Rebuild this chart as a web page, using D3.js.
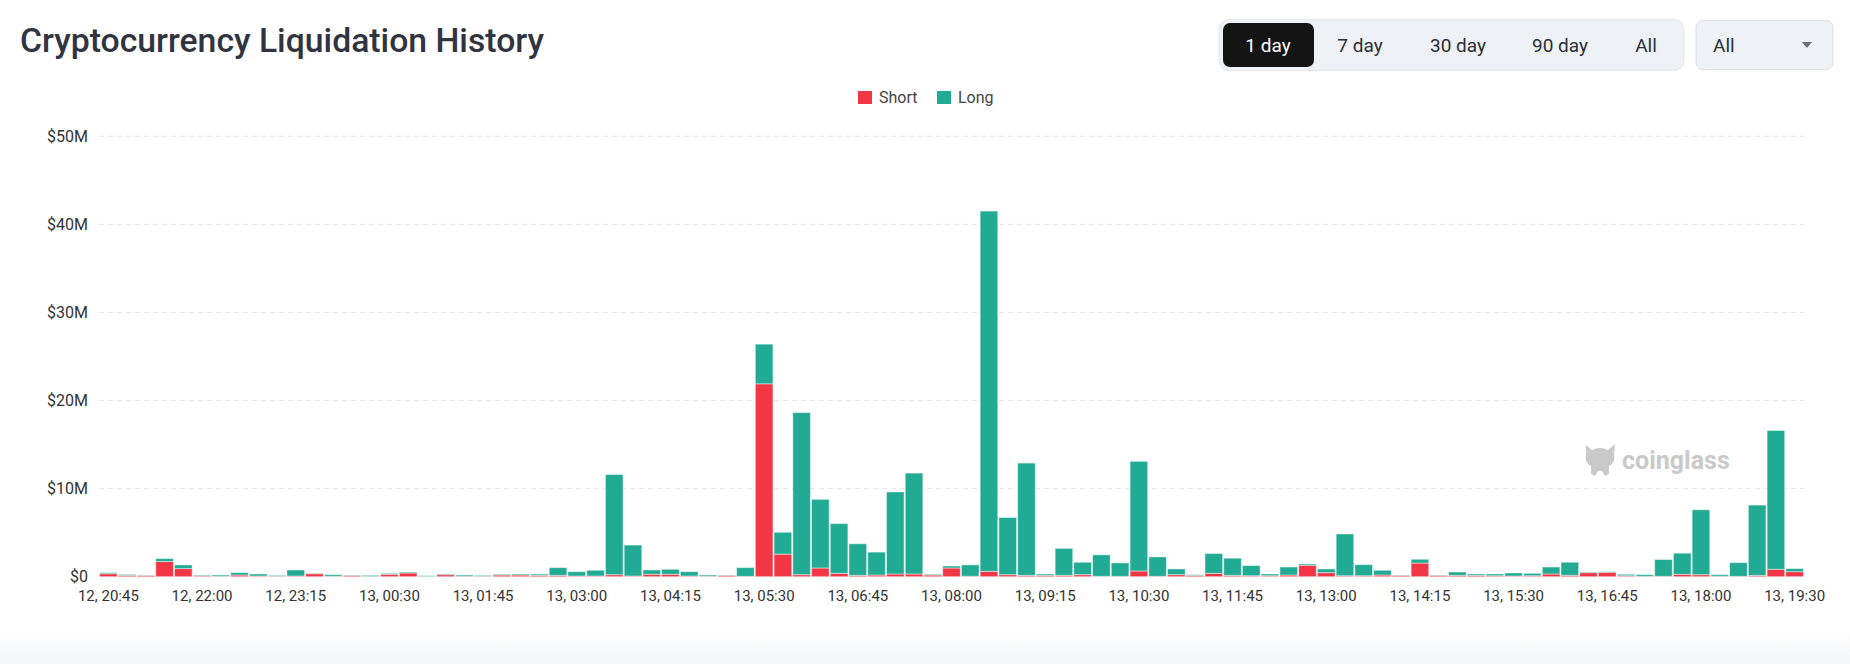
<!DOCTYPE html>
<html>
<head>
<meta charset="utf-8">
<script src="https://cdn.jsdelivr.net/npm/d3@7"></script>
<style>
  html, body { margin: 0; padding: 0; background: #fff; }
  svg { display: block; }
</style>
</head>
<body>
<div class="chart-div"></div>
<script>
//--------------------------- Data (values in $M, 15 min buckets)

var shortVals = [0.34, 0.15, 0.15, 1.72, 0.92, 0.11, 0.04, 0.19, 0.08, 0.05,
                 0.08, 0.34, 0.04, 0.15, 0.02, 0.27, 0.42, 0.02, 0.23, 0.05,
                 0.05, 0.19, 0.19, 0.15, 0.15, 0.08, 0.08, 0.23, 0.08, 0.27,
                 0.27, 0.08, 0.04, 0.15, 0.04, 21.9, 2.56, 0.23, 0.99, 0.38,
                 0.15, 0.19, 0.31, 0.31, 0.19, 0.99, 0.05, 0.61, 0.23, 0.15,
                 0.15, 0.15, 0.23, 0.04, 0.04, 0.65, 0.04, 0.23, 0.15, 0.38,
                 0.15, 0.11, 0.11, 0.19, 1.30, 0.46, 0.11, 0.11, 0.19, 0.15,
                 1.55, 0.15, 0.15, 0.15, 0.11, 0.08, 0.11, 0.31, 0.15, 0.46,
                 0.50, 0.11, 0.04, 0.04, 0.27, 0.23, 0.04, 0.04, 0.15, 0.84,
                 0.57];

var longVals = [0.12, 0.11, 0.02, 0.34, 0.42, 0.08, 0.15, 0.27, 0.23, 0.10,
                0.68, 0.04, 0.19, 0.04, 0.13, 0.11, 0.11, 0.09, 0.08, 0.14,
                0.10, 0.08, 0.12, 0.15, 0.88, 0.49, 0.65, 11.37, 3.51, 0.49,
                0.57, 0.49, 0.15, 0.04, 0.99, 4.5, 2.48, 18.4, 7.79, 5.65,
                3.59, 2.60, 9.31, 11.45, 0.08, 0.23, 1.29, 40.9, 6.49, 12.75,
                0.16, 3.06, 1.41, 2.44, 1.52, 12.45, 2.21, 0.65, 0.08, 2.25,
                1.95, 1.15, 0.20, 0.91, 0.15, 0.42, 4.74, 1.26, 0.54, 0.04,
                0.43, 0.04, 0.38, 0.16, 0.20, 0.34, 0.27, 0.79, 1.49, 0.07,
                0.07, 0.16, 0.19, 1.91, 2.40, 7.37, 0.19, 1.56, 7.98, 15.76,
                0.35];

var tickLabels = ["12, 20:45", "12, 22:00", "12, 23:15", "13, 00:30", "13, 01:45",
                  "13, 03:00", "13, 04:15", "13, 05:30", "13, 06:45", "13, 08:00",
                  "13, 09:15", "13, 10:30", "13, 11:45", "13, 13:00", "13, 14:15",
                  "13, 15:30", "13, 16:45", "13, 18:00", "13, 19:30"];

var yTicks = [0, 10, 20, 30, 40, 50];
var seriesNames = ["Short", "Long"];
var rangeButtons = ["1 day", "7 day", "30 day", "90 day", "All"];

//--------------------------- SVG definition

var width = 1850;
var height = 664;

var svg = d3.select("div.chart-div")
    .append("svg")
    .attr("width", width)
    .attr("height", height)

var defs = svg.append("defs");
var grad = defs.append("linearGradient")
    .attr("id", "bottomfade")
    .attr("x1", 0).attr("y1", 0).attr("x2", 0).attr("y2", 1);
grad.append("stop").attr("offset", "0%").attr("stop-color", "#ffffff");
grad.append("stop").attr("offset", "100%").attr("stop-color", "#f4f5f7");

svg.append("rect")
    .attr("x", 0).attr("y", 628)
    .attr("width", width).attr("height", height - 628)
    .attr("fill", "url(#bottomfade)");

var colors = { Short: "#f23645", Long: "#22ab94" };

//--------------------------- Scales

var x = d3.scaleBand()
    .domain(d3.range(shortVals.length))
    .range([99, 1804])
    .paddingInner(0.06)
    .paddingOuter(0.03);

var y = d3.scaleLinear()
    .domain([0, 50])
    .range([576.7, 136.3]);

//--------------------------- Title and controls

svg.append("text")
    .attr("x", 20)
    .attr("y", 52)
    .attr("textLength", 524)
    .attr("lengthAdjust", "spacingAndGlyphs")
    .style("font-family", "Roboto, 'Noto Sans', sans-serif")
    .style("font-weight", 500)
    .style("font-size", "34px")
    .style("fill", "#2f3440")
    .text("Cryptocurrency Liquidation History");

var btns = svg.append("g");
btns.append("rect")
    .attr("x", 1219).attr("y", 19.5)
    .attr("width", 465).attr("height", 51)
    .attr("rx", 10)
    .attr("fill", "#eef1f5")
    .attr("stroke", "#e3e7ec");

var btnCenters = [1268, 1360, 1458, 1560, 1646];
btns.append("rect")
    .attr("x", 1223).attr("y", 23)
    .attr("width", 91).attr("height", 44)
    .attr("rx", 7)
    .attr("fill", "#141414");

btns.selectAll("text.btn")
    .data(rangeButtons)
    .enter()
    .append("text")
    .attr("class", "btn")
    .attr("x", function (d, i) { return btnCenters[i]; })
    .attr("y", 52)
    .attr("text-anchor", "middle")
    .style("font-family", "Roboto, sans-serif")
    .style("font-size", "19px")
    .style("fill", function (d, i) { return i == 0 ? "#ffffff" : "#2b2f36"; })
    .text(function (d) { return d; });

var dd = svg.append("g");
dd.append("rect")
    .attr("x", 1696).attr("y", 20.5)
    .attr("width", 137).attr("height", 49)
    .attr("rx", 7)
    .attr("fill", "#eef1f5")
    .attr("stroke", "#d9e0e8");
dd.append("text")
    .attr("x", 1713).attr("y", 52)
    .style("font-family", "Roboto, sans-serif")
    .style("font-size", "19px")
    .style("fill", "#2b2f36")
    .text("All");
dd.append("path")
    .attr("d", "M1802,42 L1812,42 L1807,48 Z")
    .attr("fill", "#6b6f76");

//--------------------------- Legend

var legend = svg.append("g");
var legX = [858, 937];
seriesNames.forEach(function (name, i) {
    legend.append("rect")
        .attr("x", legX[i]).attr("y", 91)
        .attr("width", 14).attr("height", 13)
        .attr("fill", colors[name]);
    legend.append("text")
        .attr("x", legX[i] + 21).attr("y", 103)
        .style("font-family", "Roboto, sans-serif")
        .style("font-size", "16px")
        .style("fill", "#444")
        .text(name);
});

//--------------------------- Grid and y axis

var grid = svg.append("g");
grid.selectAll("line")
    .data(yTicks.filter(function (d) { return d > 0; }))
    .enter()
    .append("line")
    .attr("x1", 99).attr("x2", 1804)
    .attr("y1", function (d) { return y(d); })
    .attr("y2", function (d) { return y(d); })
    .attr("stroke", "#e6e6e6")
    .attr("stroke-dasharray", "5,4");

var yAxis = svg.append("g")
    .attr("transform", "translate(88,0)")
    .call(d3.axisLeft(y).tickValues(yTicks).tickSize(0).tickPadding(0)
        .tickFormat(function (d) { return d == 0 ? "$0" : "$" + d + "M"; }));
yAxis.select(".domain").remove();
yAxis.selectAll("text")
    .style("font-family", "Roboto, sans-serif")
    .style("font-size", "16px")
    .style("fill", "#333");

//--------------------------- Watermark

var wm = svg.append("g").attr("fill", "#c9c9c9");
wm.append("path")
    .attr("d", "M1586,445 L1592,450 Q1600,446 1608,450 L1615,444 L1614,455 Q1616,462 1609,466 " +
        "L1609,474 L1605,476 L1602,471 L1598,471 L1595,476 L1591,474 L1591,466 Q1584,462 1586,455 Z");
wm.append("text")
    .attr("x", 1622).attr("y", 469)
    .style("font-family", "Roboto, sans-serif")
    .style("font-weight", 700)
    .style("font-size", "25px")
    .text("coinglass");

//--------------------------- Stacked bars

var rows = shortVals.map(function (s, i) {
    return { idx: i, Short: s, Long: longVals[i] };
});
var stacked = d3.stack().keys(seriesNames)(rows);

var layers = svg.append("g")
    .selectAll("g")
    .data(stacked)
    .enter()
    .append("g")
    .attr("fill", function (d) { return colors[d.key]; });

layers.selectAll("rect")
    .data(function (d) { return d; })
    .enter()
    .append("rect")
    .attr("x", function (d) { return x(d.data.idx); })
    .attr("width", x.bandwidth())
    .attr("y", function (d) { return y(d[1]); })
    .attr("height", function (d) { return y(d[0]) - y(d[1]); })
    .attr("stroke", "#ffffff")
    .attr("stroke-opacity", 0.45)
    .attr("stroke-width", 1);

//--------------------------- X axis

var tickIdx = tickLabels.map(function (d, i) { return i * 5; });
var xAxis = svg.append("g")
    .attr("transform", "translate(0,577)")
    .call(d3.axisBottom(x).tickValues(tickIdx).tickSize(0).tickPadding(13)
        .tickFormat(function (d) { return tickLabels[d / 5]; }));
xAxis.select(".domain").remove();
xAxis.selectAll("text")
    .style("font-family", "Roboto, sans-serif")
    .style("font-size", "15px")
    .style("fill", "#333");
</script>
</body>
</html>
